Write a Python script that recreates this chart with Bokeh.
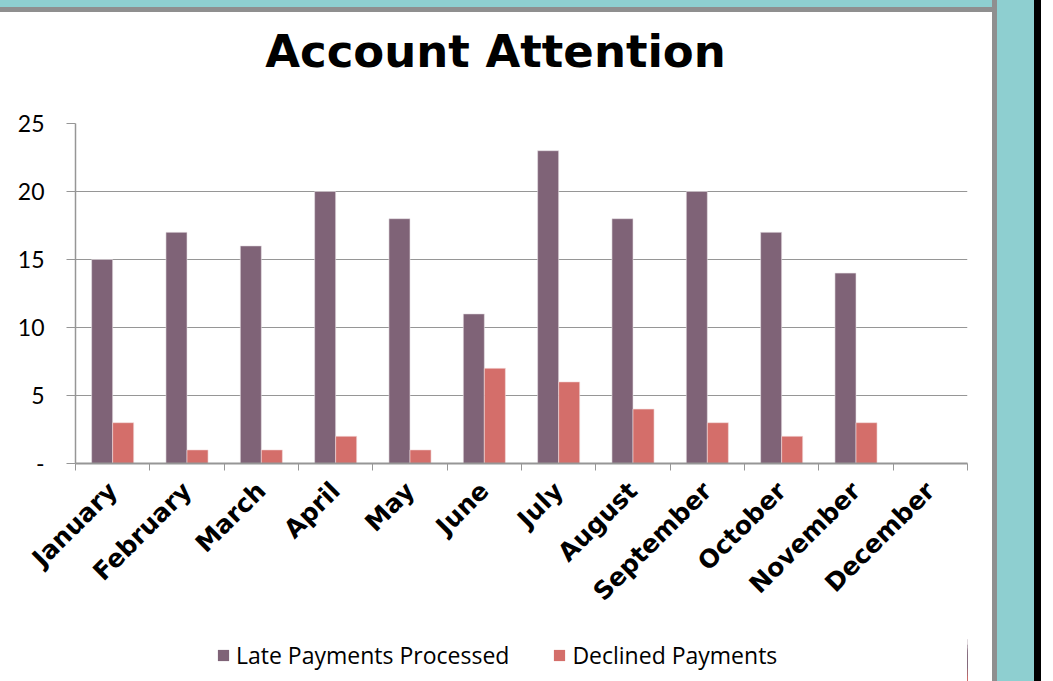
import math
import numpy as np
from bokeh.plotting import figure
from bokeh.models import (ColumnDataSource, Range1d, LinearAxis,
                          FixedTicker, Legend, LegendItem, Label)
from bokeh.layouts import column
from bokeh.transform import dodge
from bokeh.embed import file_html
from bokeh.resources import INLINE

months = ["January", "February", "March", "April", "May", "June", "July",
          "August", "September", "October", "November", "December"]
late_payments = [15, 17, 16, 20, 18, 11, 23, 18, 20, 17, 14, np.nan]
declined_payments = [3, 1, 1, 2, 1, 7, 6, 4, 3, 2, 3, np.nan]
series_names = ["Late Payments Processed", "Declined Payments"]
y_ticks = [0, 5, 10, 15, 20, 25]
y_tick_labels = {0: "-", 5: "5", 10: "10", 15: "15", 20: "20", 25: "25"}
chart_title = "Account Attention"

LATE_C = "#7F6377"
DECL_C = "#D46E6A"
GRID_C = "#969696"
BORDER_C = "#8f8f8f"
TEAL = "#8ECFD0"
FONT = "Lato"
BOLD_FONT = "DejaVu Sans"

n = len(months)
centers = [i + 0.5 for i in range(n)]
src = ColumnDataSource(dict(pos=centers, month=months, late=late_payments, declined=declined_payments))

# ---------- title strip ----------
head = figure(width=992, height=100, output_backend="svg", toolbar_location=None,
              x_axis_location=None, y_axis_location=None, min_border=0,
              x_range=Range1d(0, 1), y_range=Range1d(0, 1))
head.border_fill_alpha = 0
head.background_fill_alpha = 0
head.outline_line_color = None
head.grid.visible = False
head.add_layout(Label(x=420, y=49, x_units="screen", y_units="screen", text=chart_title,
                      text_align="center", text_baseline="alphabetic",
                      text_font=BOLD_FONT, text_font_style="bold",
                      text_font_size="45px", text_color="black"))

# ---------- main chart ----------
p = figure(x_range=Range1d(0, n), y_range=Range1d(0, 25),
           frame_width=892, frame_height=340, output_backend="svg", toolbar_location=None,
           x_axis_location=None, min_border_left=75, min_border_right=25,
           min_border_top=23, min_border_bottom=172)
p.border_fill_alpha = 0
p.background_fill_color = "white"
p.outline_line_color = None

r1 = p.vbar(x=dodge("pos", -0.1415), top="late", width=0.283,
            source=src, fill_color=LATE_C, line_color="#e8e0e6", line_width=0.6)
r2 = p.vbar(x=dodge("pos", 0.1415), top="declined", width=0.283,
            source=src, fill_color=DECL_C, line_color="#f3dcdb", line_width=0.6)

ya = p.yaxis[0]
ya.ticker = FixedTicker(ticks=y_ticks)
ya.major_label_overrides = y_tick_labels
ya.major_label_text_font = FONT
ya.major_label_text_font_size = "23px"
ya.major_label_text_color = "black"
ya.major_label_standoff = 22
ya.major_tick_out = 9
ya.major_tick_in = 0
ya.minor_tick_line_color = None
ya.major_tick_line_color = GRID_C
ya.axis_line_color = GRID_C
ya.axis_line_width = 1.5

p.xgrid.grid_line_color = None
p.ygrid.grid_line_color = GRID_C
p.ygrid.grid_line_width = 1.2
p.ygrid.ticker = FixedTicker(ticks=y_ticks)

# x axis: ticks at category boundaries
xa_edges = LinearAxis(ticker=FixedTicker(ticks=list(range(n + 1))))
xa_edges.major_tick_out = 7
xa_edges.major_tick_in = 0
xa_edges.minor_tick_line_color = None
xa_edges.major_tick_line_color = GRID_C
xa_edges.axis_line_color = GRID_C
xa_edges.axis_line_width = 2
xa_edges.major_label_overrides = {i: "" for i in range(n + 1)}
xa_edges.major_label_text_font_size = "1px"
xa_edges.major_label_standoff = 0
p.add_layout(xa_edges, "below")

# x axis: month labels at category centres
xa_lab = LinearAxis(ticker=FixedTicker(ticks=centers))
xa_lab.major_label_overrides = {c: m for c, m in zip(centers, months)}
xa_lab.major_tick_line_color = None
xa_lab.minor_tick_line_color = None
xa_lab.major_tick_out = 0
xa_lab.major_tick_in = 0
xa_lab.axis_line_color = None
xa_lab.major_label_orientation = math.pi / 4
xa_lab.major_label_text_font = BOLD_FONT
xa_lab.major_label_text_font_style = "bold"
xa_lab.major_label_text_font_size = "25px"
xa_lab.major_label_text_color = "black"
xa_lab.major_label_standoff = 16
p.add_layout(xa_lab, "below")

# ---------- legend strip ----------
leg = figure(width=992, height=46, output_backend="svg", toolbar_location=None,
             x_axis_location=None, y_axis_location=None, min_border=0,
             x_range=Range1d(-200, -199), y_range=Range1d(0, 25))
leg.border_fill_alpha = 0
leg.background_fill_alpha = 0
leg.outline_line_color = None
leg.grid.visible = False
l1 = leg.vbar(x="pos", top="late", width=0.283, source=src, fill_color=LATE_C, line_color=None)
l2 = leg.vbar(x="pos", top="declined", width=0.283, source=src, fill_color=DECL_C, line_color=None)

legend = Legend(items=[LegendItem(label=series_names[0], renderers=[l1]),
                       LegendItem(label=series_names[1], renderers=[l2])],
                orientation="horizontal", location=(141, 10))
legend.label_text_font = "Open Sans"
legend.label_text_font_size = "23px"
legend.label_text_color = "black"
legend.glyph_width = 14
legend.glyph_height = 14
legend.label_standoff = 6
legend.spacing = 43
legend.padding = 0
legend.margin = 0
legend.border_line_color = None
legend.background_fill_alpha = 0
leg.add_layout(legend, "center")

shadow = ", ".join([
    "inset 0 7px 0 0 " + TEAL,
    "inset 0 12px 0 0 " + BORDER_C,
    "5px 0 0 0 " + BORDER_C,
    "42px 0 0 0 " + TEAL,
    "49px 0 0 0 #000000",
])

layout = column(head, p, leg, spacing=0,
                styles={"box-shadow": shadow, "background-color": "#ffffff"})

open("out.html", "w").write(file_html(layout, INLINE))
